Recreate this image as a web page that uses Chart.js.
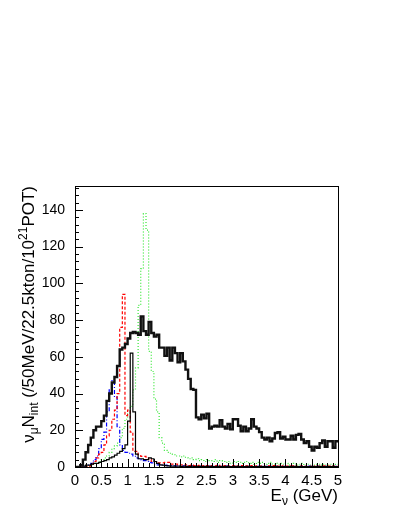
<!DOCTYPE html>
<html><head><meta charset="utf-8">
<script src="https://cdn.jsdelivr.net/npm/chart.js@4/dist/chart.umd.min.js"></script>
<style>html,body{margin:0;padding:0;background:#fff;} #wrap{width:405px;height:524px;}</style>
</head><body><div id="wrap"><canvas id="c" width="405" height="524"></canvas></div>
<script>
// Histogram binning: 100 bins of 50 MeV from 0 to 5 GeV
const binWidth = 0.05;
const xMin = 0, xMax = 5, yMin = 0, yMax = 153;
const xTickValues = [0, 0.5, 1, 1.5, 2, 2.5, 3, 3.5, 4, 4.5, 5];
const yTickValues = [0, 20, 40, 60, 80, 100, 120, 140];

// thick black: total
const totalSeries = [
  0,0,1,4,8,12,16,20,22,22,
  25,28,36,40,46,49,55,64,65,67,
  70,73,73.5,73,72,82,74,72,79,73,
  71,72,65,65,60.5,65,58,65,62,57,
  62,57.5,53,48,42.5,42,27,26,28.5,26.5,
  29,21,22,22.5,22,25.5,22,21,23.5,20.5,
  26,26,22.5,19.5,22,19.5,21,26,22,21,
  19,16,15,16,14,15.5,18.5,19,15.5,16.5,
  15,15,17,15,17.5,18,15,13,14,11,
  9,11,10.5,13,14.5,11,14,14,10.5,14
];
// thin black solid
const thinBlackSeries = [
  0,0,0,0.5,1,1,1.5,2,2,2.5,
  3,3.5,4,5,5.5,6.5,7.5,8.5,10,12,
  25,62,30,7,4.5,4.5,4,4,5,4.5,
  3,2,1.2,1,0.8,0.6,0.5,0.5,0.4,0.5,
  0.3,0.4,0.3,0.3,0.4,0.2,0.3,0.3,0.2,0.3,
  0.2,0.3,0.2,0.2,0.3,0.2,0.2,0.3,0.2,0.2,
  0.2,0.3,0.2,0.2,0.2,0.3,0.2,0.2,0.2,0.2,
  0.3,0.2,0.2,0.2,0.2,0.2,0.3,0.2,0.2,0.2,
  0.2,0.2,0.2,0.3,0.2,0.2,0.2,0.2,0.2,0.2,
  0.2,0.2,0.3,0.2,0.2,0.2,0.2,0.2,0.2,0.2
];
// red dashed
const redSeries = [
  0,0,0,0,0,0.5,1.5,3,5,7,
  8,12,17,20,26,31,40,76,94,28,
  31,19,8.5,8.5,6.7,5.8,5.8,4.9,4,3,
  3,2.2,2.2,2.2,2.5,2.5,1.6,1.6,1.6,1.2,
  1.2,1,1.2,0.8,1,0.8,0.6,0.9,0.6,0.7,
  0.8,0.5,0.7,0.6,0.9,0.5,0.6,0.8,0.5,0.6,
  0.7,0.5,0.6,0.8,0.5,0.6,0.5,0.7,0.5,0.6,
  0.5,0.6,0.4,0.6,0.5,0.7,0.4,0.5,0.6,0.4,
  0.5,0.4,0.6,0.5,0.4,0.5,0.6,0.4,0.5,0.4,
  0.5,0.4,0.5,0.4,0.6,0.4,0.5,0.4,0.5,0.4
];
// blue dash-dot
const blueSeries = [
  0,0,0,0,0.5,1,2,4,6,10,
  15,19,30,42,47,38,22,12,9,8,
  7.5,7,6,5,4.5,4,3.5,3,2.5,2.2,
  1.5,1.2,1.2,1,1,0.8,0.8,0.6,0.6,0.5,
  0.5,0.6,0.4,0.5,0.6,0.4,0.5,0.4,0.5,0.4,
  0.5,0.4,0.3,0.5,0.4,0.3,0.4,0.5,0.3,0.4,
  0.3,0.4,0.5,0.3,0.4,0.3,0.4,0.3,0.5,0.3,
  0.4,0.3,0.3,0.4,0.3,0.5,0.3,0.4,0.3,0.3,
  0.4,0.3,0.3,0.4,0.3,0.3,0.4,0.3,0.3,0.5,
  0.3,0.3,0.4,0.3,0.3,0.4,0.3,0.3,0.4,0.3
];
// green dotted
const greenSeries = [
  0,0,0,0,0.3,0.5,1,1.5,2,3,
  4,5,6,8,10,11.5,13,16,21,26,
  29,33,42,54,88,108,138,129,63,52,
  37,30,16,13,9,8,7.5,7,6,6,
  5.5,6,5,4.5,5,4,4.5,3.5,4,3,
  4,3.5,3,4,2.5,3.5,3,2.5,3,2,
  3,2.5,3,2,2.5,3,2,2.5,1.5,2.5,
  2,2.5,1.5,2,2.5,1.5,2,1.5,2,1.5,
  2,1,1.5,2,1,1.5,2,1,1.5,1,
  1.5,1,1.5,1,1.5,1,1,1.5,1,1.5
];

function toSteps(values) {
  const pts = values.map((v, i) => ({x: i * binWidth, y: v}));
  pts.push({x: values.length * binWidth, y: values[values.length - 1]});
  return pts;
}

const FONT = "'Liberation Sans', Arial, Helvetica, sans-serif";

const decorPlugin = {
  id: 'decor',
  afterDatasetsDraw(chart) {
    const ctx = chart.ctx, a = chart.chartArea;
    const xs = chart.scales.x, ys = chart.scales.y;
    ctx.save();
    ctx.strokeStyle = '#000';
    ctx.lineWidth = 1;
    ctx.beginPath();
    // x ticks (inward)
    for (let k = 0; k <= 50; k++) {
      const v = k * 0.1;
      const px = Math.round(xs.getPixelForValue(v)) + 0.5;
      const len = (k % 5 === 0) ? 8 : 4;
      ctx.moveTo(px, a.bottom);
      ctx.lineTo(px, a.bottom - len);
    }
    // y ticks (inward)
    for (let v = 0; v <= yMax; v += 4) {
      const py = Math.round(ys.getPixelForValue(v)) + 0.5;
      const len = (v % 20 === 0) ? 8 : 4;
      ctx.moveTo(a.left, py);
      ctx.lineTo(a.left + len, py);
    }
    ctx.stroke();
    ctx.strokeRect(Math.round(a.left) + 0.5, Math.round(a.top) + 0.5,
                   Math.round(a.right - a.left), Math.round(a.bottom - a.top));
    ctx.restore();
  },
  afterDraw(chart) {
    const ctx = chart.ctx, a = chart.chartArea;
    ctx.save();
    ctx.fillStyle = '#000';
    ctx.textBaseline = 'alphabetic';
    ctx.textAlign = 'left';
    // y-axis title (rotated), end aligned with top of frame
    const yParts = [
      {t: 'ν', s: 17, dy: 0}, {t: 'μ', s: 12, dy: 4},
      {t: 'N', s: 17, dy: 0}, {t: 'int', s: 12, dy: 4},
      {t: ' (/50MeV/22.5kton/10', s: 17, dy: 0}, {t: '21', s: 12, dy: -7},
      {t: 'POT)', s: 17, dy: 0}
    ];
    let total = 0;
    yParts.forEach(p => { ctx.font = p.s + 'px ' + FONT; p.w = ctx.measureText(p.t).width; total += p.w; });
    ctx.translate(33.5, a.top);
    ctx.rotate(-Math.PI / 2);
    let x = -total;
    yParts.forEach(p => { ctx.font = p.s + 'px ' + FONT; ctx.fillText(p.t, x, p.dy); x += p.w; });
    ctx.restore();

    ctx.save();
    ctx.fillStyle = '#000';
    ctx.textBaseline = 'alphabetic';
    const xParts = [
      {t: 'E', s: 17, dy: 0}, {t: 'ν', s: 12, dy: 4}, {t: ' (GeV)', s: 17, dy: 0}
    ];
    let tw = 0;
    xParts.forEach(p => { ctx.font = p.s + 'px ' + FONT; p.w = ctx.measureText(p.t).width; tw += p.w; });
    let xx = a.right - tw;
    xParts.forEach(p => { ctx.font = p.s + 'px ' + FONT; ctx.fillText(p.t, xx, 501 + p.dy); xx += p.w; });
    ctx.restore();
  }
};

const baseLine = {stepped: 'before', pointRadius: 0, fill: false, tension: 0};

new Chart(document.getElementById('c'), {
  type: 'line',
  data: {
    datasets: [
      Object.assign({label: 'Total', data: toSteps(totalSeries), borderColor: '#111', borderWidth: 2.4}, baseLine),
      Object.assign({label: 'Thin black', data: toSteps(thinBlackSeries), borderColor: '#000', borderWidth: 1.2}, baseLine),
      Object.assign({label: 'Red', data: toSteps(redSeries), borderColor: '#ff0000', borderWidth: 1.2, borderDash: [3, 2]}, baseLine),
      Object.assign({label: 'Blue', data: toSteps(blueSeries), borderColor: '#0000ff', borderWidth: 1.2, borderDash: [4, 2, 1, 2]}, baseLine),
      Object.assign({label: 'Green', data: toSteps(greenSeries), borderColor: '#33e633', borderWidth: 1.2, borderDash: [1, 2]}, baseLine)
    ]
  },
  options: {
    responsive: false, animation: false, devicePixelRatio: 1,
    layout: {padding: {top: 186, right: 67, left: 0, bottom: 0}},
    plugins: {legend: {display: false}, tooltip: {enabled: false}},
    scales: {
      x: {
        type: 'linear', min: xMin, max: xMax,
        grid: {display: false, drawTicks: false}, border: {display: false},
        afterBuildTicks: s => { s.ticks = xTickValues.map(v => ({value: v})); },
        ticks: {padding: 5, color: '#000', font: {family: FONT, size: 15}, maxRotation: 0, autoSkip: false,
                callback: v => String(Number(Number(v).toFixed(1)))},
        afterFit: s => { s.height = 57; }
      },
      y: {
        type: 'linear', min: yMin, max: yMax,
        grid: {display: false, drawTicks: false}, border: {display: false},
        afterBuildTicks: s => { s.ticks = yTickValues.map(v => ({value: v})); },
        ticks: {padding: 10, color: '#000', font: {family: FONT, size: 14}, autoSkip: false,
                callback: v => String(v)},
        afterFit: s => { s.width = 75; }
      }
    }
  },
  plugins: [decorPlugin]
});
</script>
</body></html>
